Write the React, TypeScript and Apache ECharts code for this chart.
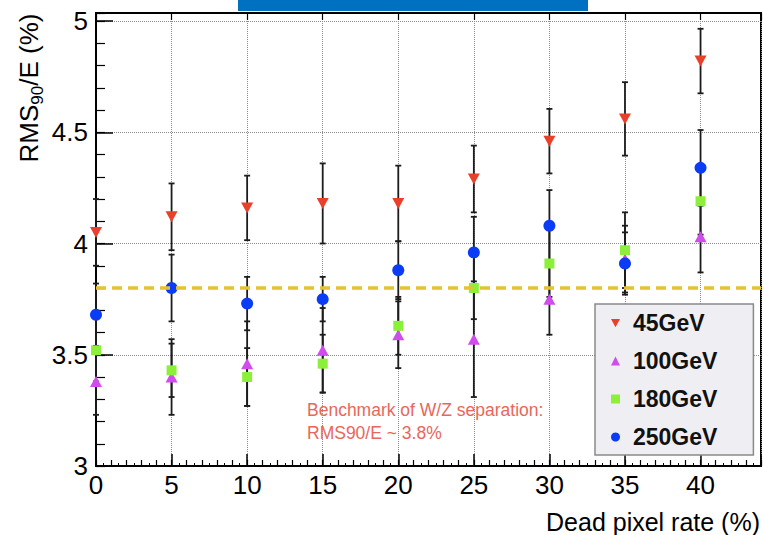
import React, { useEffect, useRef } from 'react';
import * as echarts from 'echarts';

// ---- data ----
const deadRates = [0, 5, 10, 15, 20, 25, 30, 35, 40];
const seriesNames = ['45GeV', '100GeV', '180GeV', '250GeV'];
const rms45 = [4.05, 4.12, 4.16, 4.18, 4.18, 4.29, 4.46, 4.56, 4.82];
const rms100 = [3.38, 3.40, 3.46, 3.52, 3.59, 3.57, 3.75, 3.93, 4.03];
const rms180 = [3.52, 3.43, 3.40, 3.46, 3.63, 3.80, 3.91, 3.97, 4.19];
const rms250 = [3.68, 3.80, 3.73, 3.75, 3.88, 3.96, 4.08, 3.91, 4.34];
const err45 = [0.15, 0.15, 0.145, 0.18, 0.17, 0.15, 0.145, 0.165, 0.145];
const err100 = [0.15, 0.17, 0.19, 0.19, 0.15, 0.26, 0.16, 0.15, 0.16];
const err180 = [0.14, 0.12, 0.13, 0.13, 0.13, 0.14, 0.15, 0.17, 0.15];
const err250 = [0.14, 0.15, 0.12, 0.10, 0.13, 0.16, 0.16, 0.14, 0.17];
const benchmark = 3.8;
const xMin = 0;
const xMax = 44;
const yMin = 3;
const yMax = 5.036;
const annotationLines = ['Benchmark of W/Z separation:', 'RMS90/E ~ 3.8%'];
const xTitle = 'Dead pixel rate (%)';

const FONT = '"Liberation Sans", Arial, Helvetica, sans-serif';
const colors = ['#e8402a', '#d04cec', '#8cf03a', '#0b3cf5'];
const symbols = ['path://M0,0L12,0L6,11Z', 'triangle', 'rect', 'circle'];
const symbolSizes: any[] = [[12, 11], [12, 11], 10, 12];
const values = [rms45, rms100, rms180, rms250];
const errors = [err45, err100, err180, err250];

export default function App() {
  const ref = useRef<HTMLDivElement>(null);
  useEffect(() => {
    if (!ref.current) return;
    const chart = echarts.init(ref.current, null, { renderer: 'svg' });

    const errSeries = values.map((vals, k) => ({
      type: 'custom',
      name: 'err' + seriesNames[k],
      xAxisIndex: 0,
      yAxisIndex: 0,
      z: 1,
      silent: true,
      data: deadRates.map((x, i) => [x, vals[i] - errors[k][i], vals[i] + errors[k][i]]),
      renderItem: (params: any, api: any) => {
        const lo = api.coord([api.value(0), api.value(1)]);
        const hi = api.coord([api.value(0), api.value(2)]);
        const cw = 3;
        const st = { stroke: '#1c1c1c', lineWidth: 1.8 };
        return {
          type: 'group',
          children: [
            { type: 'line', shape: { x1: lo[0], y1: lo[1], x2: hi[0], y2: hi[1] }, style: st },
            { type: 'line', shape: { x1: lo[0] - cw, y1: lo[1], x2: lo[0] + cw, y2: lo[1] }, style: st },
            { type: 'line', shape: { x1: hi[0] - cw, y1: hi[1], x2: hi[0] + cw, y2: hi[1] }, style: st },
          ],
        };
      },
    }));

    const markerSeries = values.map((vals, k) => ({
      type: 'scatter',
      name: seriesNames[k],
      xAxisIndex: 0,
      yAxisIndex: 0,
      z: 3,
      symbol: symbols[k],
      symbolSize: symbolSizes[k],
      itemStyle: { color: colors[k], opacity: 1 },
      data: deadRates.map((x, i) => [x, vals[i]]),
      ...(k === 3
        ? {
            markLine: {
              silent: true,
              symbol: ['none', 'none'],
              label: { show: false },
              lineStyle: { color: '#e6c22c', width: 3.5, type: [10, 6] },
              data: [{ yAxis: benchmark }],
              z: 6,
            },
          }
        : {}),
    }));

    const majorX = (v: number) => (Math.abs(v / 5 - Math.round(v / 5)) < 1e-6 ? String(v) : '');
    const majorY = (v: number) =>
      Math.abs(v * 2 - Math.round(v * 2)) < 1e-6 ? String(Math.round(v * 10) / 10) : '';

    const option: any = {
      animation: false,
      backgroundColor: '#ffffff',
      grid: {
        left: 96,
        right: 2,
        top: 13,
        bottom: 69,
        show: true,
        borderColor: '#000',
        borderWidth: 2,
        backgroundColor: 'transparent',
      },
      xAxis: [
        {
          type: 'value',
          position: 'bottom',
          min: xMin,
          max: xMax,
          interval: 5,
          axisLine: { show: true, lineStyle: { color: '#000', width: 2 } },
          axisTick: { show: true, inside: true, length: 12, lineStyle: { color: '#000', width: 1.5 } },
          axisLabel: { formatter: majorX, fontSize: 26, color: '#000', fontFamily: FONT, margin: 6 },
          splitLine: { show: true, lineStyle: { color: '#8a8a8a', type: 'dotted', width: 1 } },
        },
        {
          type: 'value',
          position: 'bottom',
          min: xMin,
          max: xMax,
          interval: 1,
          axisLine: { show: false },
          axisTick: { show: true, inside: true, length: 6, lineStyle: { color: '#000', width: 1.2 } },
          minorTick: { show: true, splitNumber: 2, length: 3, lineStyle: { color: '#000', width: 1 } },
          axisLabel: { show: false },
          splitLine: { show: false },
        },
        {
          type: 'value',
          position: 'top',
          min: xMin,
          max: xMax,
          interval: 5,
          axisLine: { show: true, lineStyle: { color: '#000', width: 2 } },
          axisTick: { show: true, inside: true, length: 7, lineStyle: { color: '#000', width: 1.2 } },
          axisLabel: { show: false },
          splitLine: { show: false },
        },
      ],
      yAxis: [
        {
          type: 'value',
          position: 'left',
          min: yMin,
          max: yMax,
          interval: 0.5,
          axisLine: { show: true, lineStyle: { color: '#000', width: 2 } },
          axisTick: { show: true, inside: true, length: 17, lineStyle: { color: '#000', width: 1.5 } },
          axisLabel: { formatter: majorY, fontSize: 26, color: '#000', fontFamily: FONT, margin: 8 },
          splitLine: { show: true, lineStyle: { color: '#8a8a8a', type: 'dotted', width: 1 } },
        },
        {
          type: 'value',
          position: 'left',
          min: yMin,
          max: yMax,
          interval: 0.1,
          axisLine: { show: false },
          axisTick: { show: true, inside: true, length: 9, lineStyle: { color: '#000', width: 1.2 } },
          axisLabel: { show: false },
          splitLine: { show: false },
        },
      ],
      legend: {
        data: seriesNames,
        orient: 'vertical',
        left: 595,
        top: 304,
        padding: [7, 36, 6, 16],
        itemGap: 14,
        itemWidth: 9,
        itemHeight: 9,
        backgroundColor: '#efeff3',
        borderColor: '#8a8a8a',
        borderWidth: 1.5,
        selectedMode: false,
        textStyle: {
          fontSize: 23,
          fontWeight: 'bold',
          color: '#111',
          fontFamily: FONT,
          lineHeight: 24,
          padding: [0, 0, 0, 8],
        },
      },
      graphic: [
        { type: 'rect', left: 238, top: 0, shape: { width: 350, height: 11 }, style: { fill: '#0070c0' } },
        {
          type: 'text',
          x: 27,
          y: 88,
          rotation: Math.PI / 2,
          style: {
            text: '{n|RMS}{s|90}{n|/E (%)}',
            align: 'center',
            verticalAlign: 'middle',
            fill: '#000',
            rich: {
              n: { fontSize: 26, fontFamily: FONT, fill: '#000', lineHeight: 30, verticalAlign: 'bottom' },
              s: { fontSize: 17, fontFamily: FONT, fill: '#000', lineHeight: 24, verticalAlign: 'bottom', padding: [0, 0, -4, 0] },
            },
          },
        },
        {
          type: 'text',
          x: 760,
          y: 522,
          style: { text: xTitle, align: 'right', verticalAlign: 'middle', fontSize: 25, fontFamily: FONT, fill: '#000' },
        },
        {
          type: 'text',
          x: 307,
          y: 410,
          style: { text: annotationLines[0], align: 'left', verticalAlign: 'middle', fontSize: 17.5, fontFamily: FONT, fill: '#e8675a' },
        },
        {
          type: 'text',
          x: 307,
          y: 433,
          style: { text: annotationLines[1], align: 'left', verticalAlign: 'middle', fontSize: 17.5, fontFamily: FONT, fill: '#e8675a' },
        },
      ],
      series: [...errSeries, ...markerSeries],
    };
    chart.setOption(option);
    return () => chart.dispose();
  }, []);
  return (
    <div
      ref={ref}
      style={{ position: 'fixed', left: 0, top: 0, width: 764, height: 535, background: '#fff' }}
    />
  );
}
